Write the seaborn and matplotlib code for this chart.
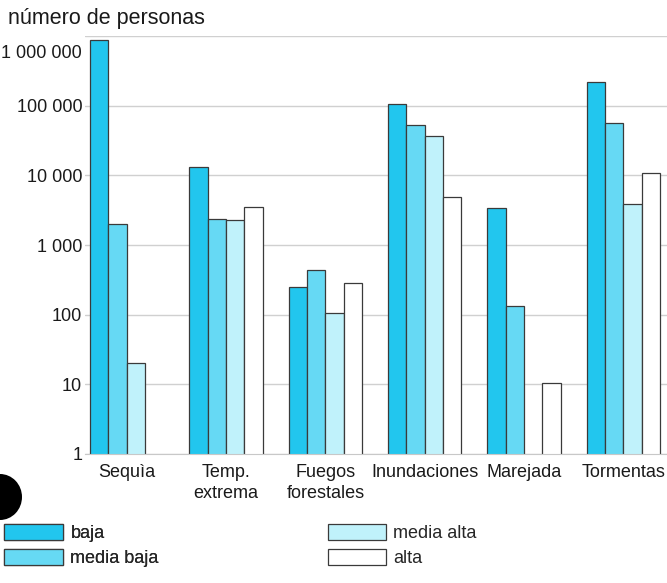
import matplotlib
matplotlib.use("Agg")
import matplotlib.pyplot as plt
import matplotlib.transforms as mtransforms
import seaborn as sns
import pandas as pd
import numpy as np
from matplotlib.patches import Ellipse, Patch
from matplotlib.ticker import FixedLocator, FixedFormatter, NullLocator

categories = ["Sequìa", "Temp.\nextrema", "Fuegos\nforestales", "Inundaciones", "Marejada", "Tormentas"]
levels = ["baja", "media baja", "media alta", "alta"]
baja = [880000, 13000, 250, 107000, 3400, 220000]
media_baja = [2000, 2400, 440, 53000, 134, 57000]
media_alta = [20, 2300, 105, 37000, np.nan, 3900]
alta = [np.nan, 3550, 290, 4900, 10.5, 11000]
tick_vals = [1, 10, 100, 1000, 10000, 100000, 1000000]
tick_labels = ["1", "10", "100", "1 000", "10 000", "100 000", "1 000 000"]
colors = ["#22c6ee", "#66d9f4", "#c0f2fb", "#ffffff"]

rows = []
for lvl, vals in zip(levels, [baja, media_baja, media_alta, alta]):
    for c, v in zip(categories, vals):
        rows.append({"cat": c, "nivel": lvl, "valor": v})
df = pd.DataFrame(rows)

sns.set_style("white")
plt.rcParams['font.family'] = ['Liberation Sans', 'DejaVu Sans']

fig = plt.figure(figsize=(6.67, 5.83), dpi=100)
ax = fig.add_axes([0.1274, 0.2213, 0.8726, 0.7167])
ax.set_yscale("log")
sns.barplot(data=df, x="cat", y="valor", hue="nivel", hue_order=levels, order=categories,
            palette=colors, saturation=1, edgecolor="#3a3a3a", linewidth=0.9, width=0.74,
            ax=ax, legend=False, errorbar=None)
ax.set_ylim(1, 1000000)
ax.set_xlim(-0.42, 5.44)
ax.yaxis.set_major_locator(FixedLocator(tick_vals))
ax.yaxis.set_major_formatter(FixedFormatter(tick_labels))
ax.yaxis.set_minor_locator(NullLocator())
ax.grid(axis="y", color="#d0d0d0", linewidth=1)
ax.set_axisbelow(True)
for s in ["top", "right", "left"]:
    ax.spines[s].set_visible(False)
ax.spines["bottom"].set_color("#c8c8c8")
ax.tick_params(axis="y", length=0, labelsize=13, pad=2, colors="#1a1a1a")
ax.tick_params(axis="x", length=0, labelsize=13, pad=7, colors="#1a1a1a")
for t in ax.get_xticklabels():
    t.set_linespacing(1.35)
ax.set_xlabel("")
ax.set_ylabel("")

# the top label sits a little below its gridline in the reference
top_label = ax.get_yticklabels()[-1]
top_label.set_transform(top_label.get_transform() +
                        mtransforms.ScaledTranslation(0, -15 / 100, fig.dpi_scale_trans))

fig.text(0.012, 0.950, "número de personas", fontsize=15.5, color="#1a1a1a", va="bottom", ha="left")

handles = [Patch(facecolor=c, edgecolor="#3a3a3a", linewidth=0.9) for c in colors]
leg1 = fig.legend([handles[0], handles[1]], ["baja", "media baja"], loc="upper left",
                  bbox_to_anchor=(0.0, 0.108), frameon=False, fontsize=13,
                  handlelength=3.3, handleheight=1.0, handletextpad=0.4, labelspacing=0.4,
                  borderaxespad=0, borderpad=0.2)
leg2 = fig.legend([handles[2], handles[3]], ["media alta", "alta"], loc="upper left",
                  bbox_to_anchor=(0.487, 0.108), frameon=False, fontsize=13,
                  handlelength=3.2, handleheight=1.0, handletextpad=0.4, labelspacing=0.4,
                  borderaxespad=0, borderpad=0.2)
fig.add_artist(leg1)

blob = Ellipse((0 / 667, 1 - 497 / 583), 44 / 667, 46 / 583, transform=fig.transFigure,
               facecolor="black", edgecolor="none")
fig.add_artist(blob)

fig.savefig("out.png", dpi=100)
